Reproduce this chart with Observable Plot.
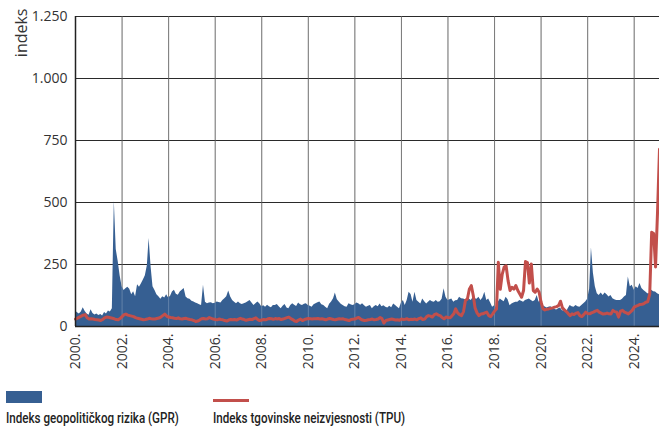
<!DOCTYPE html>
<html>
<head>
<meta charset="utf-8">
<script src="https://cdn.jsdelivr.net/npm/d3@7"></script>
<script src="https://cdn.jsdelivr.net/npm/@observablehq/plot@0.6"></script>
<style>
  html, body { margin: 0; padding: 0; background: #fff; }
  #wrap { width: 659px; height: 431px; position: relative; overflow: hidden; }
  #legend { position: relative; width: 659px; height: 51px; font-family: Roboto, "Open Sans", sans-serif; }
  .sw { position: absolute; }
  .lt { position: absolute; top: 29px; font-size: 15.5px; font-weight: 500; color: #222; white-space: nowrap; transform: scaleX(0.75); transform-origin: left center; }
</style>
</head>
<body>
<div id="wrap">
  <div id="chart"></div>
  <div id="legend"></div>
</div>
<script>
// ---- data (monthly, Jan 2000 – Feb 2025) ----
const seriesNames = ["Indeks geopolitičkog rizika (GPR)", "Indeks tgovinske neizvjesnosti (TPU)"];
const yTickValues = [0, 250, 500, 750, 1000, 1250];
const yTickLabels = ["0", "250", "500", "750", "1.000", "1.250"];
const xTickYears = [2000, 2002, 2004, 2006, 2008, 2010, 2012, 2014, 2016, 2018, 2020, 2022, 2024];

const gprByYear = [
  [62, 55, 50, 58, 76, 60, 50, 45, 68, 52, 46, 50],          // 2000
  [44, 48, 42, 56, 50, 62, 58, 72, 505, 310, 262, 205],      // 2001
  [160, 145, 152, 158, 150, 128, 140, 120, 168, 158, 172, 188], // 2002
  [205, 245, 355, 240, 160, 145, 128, 120, 110, 120, 115, 128], // 2003
  [115, 122, 139, 146, 130, 126, 139, 146, 153, 119, 112, 110], // 2004
  [102, 99, 95, 92, 88, 85, 166, 98, 92, 95, 96, 92],        // 2005
  [94, 99, 97, 95, 105, 112, 120, 143, 119, 105, 98, 92],    // 2006
  [99, 92, 89, 92, 95, 100, 105, 95, 85, 92, 99, 92],        // 2007
  [80, 84, 78, 86, 80, 76, 85, 85, 89, 80, 72, 82],          // 2008
  [89, 75, 72, 85, 92, 86, 81, 95, 88, 85, 90, 92],          // 2009
  [85, 82, 78, 88, 92, 96, 99, 88, 85, 78, 72, 90],          // 2010
  [99, 112, 135, 108, 99, 90, 85, 80, 78, 92, 88, 85],       // 2011
  [88, 95, 92, 86, 92, 84, 78, 82, 85, 72, 80, 85],          // 2012
  [80, 91, 80, 84, 78, 75, 82, 76, 91, 85, 78, 72],          // 2013
  [95, 105, 85, 105, 138, 129, 98, 138, 105, 98, 91, 111],   // 2014
  [100, 91, 98, 105, 100, 98, 105, 98, 100, 110, 152, 118],  // 2015
  [105, 108, 111, 98, 104, 105, 118, 112, 111, 108, 105, 111], // 2016
  [105, 118, 112, 110, 118, 105, 115, 138, 105, 111, 95, 78], // 2017
  [84, 75, 98, 111, 105, 100, 118, 108, 84, 91, 95, 98],     // 2018
  [98, 105, 102, 98, 105, 108, 111, 105, 100, 105, 125, 98], // 2019
  [110, 84, 80, 75, 78, 80, 75, 70, 67, 72, 75, 64],         // 2020
  [62, 55, 72, 85, 80, 78, 85, 80, 78, 85, 92, 99],          // 2021
  [110, 150, 318, 215, 160, 132, 125, 135, 125, 135, 128, 119], // 2022
  [125, 112, 108, 105, 105, 105, 110, 119, 125, 200, 160, 166], // 2023
  [146, 160, 153, 173, 153, 145, 139, 132, 132, 146, 140, 139], // 2024
  [132, 128]                                                  // 2025
];

const tpuByYear = [
  [30, 34, 38, 42, 46, 48, 35, 30, 31, 30, 28, 27],          // 2000
  [26, 24, 28, 35, 38, 37, 35, 33, 31, 28, 27, 32],          // 2001
  [40, 48, 50, 46, 44, 42, 40, 36, 33, 31, 29, 27],          // 2002
  [28, 30, 33, 31, 30, 30, 32, 34, 38, 44, 50, 42],          // 2003
  [38, 36, 35, 33, 32, 35, 31, 30, 32, 33, 30, 28],          // 2004
  [27, 24, 20, 22, 26, 31, 32, 30, 31, 36, 33, 30],          // 2005
  [28, 27, 30, 28, 27, 24, 22, 26, 28, 27, 28, 26],          // 2006
  [30, 33, 30, 28, 25, 27, 29, 28, 32, 35, 28, 24],          // 2007
  [26, 28, 27, 30, 32, 31, 29, 32, 30, 32, 28, 30],          // 2008
  [33, 36, 38, 32, 28, 22, 20, 26, 30, 24, 28, 30],          // 2009
  [32, 31, 30, 31, 31, 32, 30, 31, 29, 27, 30, 32],          // 2010
  [30, 28, 27, 29, 31, 30, 31, 28, 26, 24, 28, 29],          // 2011
  [30, 34, 36, 30, 26, 24, 25, 27, 28, 30, 27, 28],          // 2012
  [30, 36, 32, 14, 24, 26, 28, 30, 28, 26, 27, 25],          // 2013
  [30, 28, 29, 31, 27, 29, 28, 30, 27, 32, 35, 28],          // 2014
  [30, 40, 44, 42, 38, 48, 51, 46, 44, 36, 31, 38],          // 2015
  [36, 35, 42, 51, 71, 55, 48, 44, 60, 105, 111, 150],       // 2016
  [165, 125, 75, 55, 44, 50, 51, 55, 58, 44, 40, 50],        // 2017
  [62, 71, 259, 150, 210, 240, 245, 185, 145, 158, 151, 165], // 2018
  [145, 131, 118, 145, 262, 258, 175, 252, 145, 138, 151, 138], // 2019
  [98, 71, 67, 70, 71, 73, 75, 78, 80, 84, 102, 75],         // 2020
  [67, 60, 52, 44, 51, 48, 54, 56, 44, 40, 48, 58],          // 2021
  [52, 51, 55, 58, 62, 65, 58, 54, 50, 51, 54, 51],          // 2022
  [50, 65, 60, 58, 38, 62, 65, 58, 55, 51, 58, 65],          // 2023
  [78, 82, 85, 89, 90, 92, 98, 100, 132, 380, 375, 240],     // 2024
  [460, 715]                                                  // 2025
];

const gpr = gprByYear.flat();
const tpu = tpuByYear.flat();
const start = new Date(Date.UTC(2000, 0, 1));
const data = gpr.map((v, i) => ({ date: new Date(Date.UTC(2000, i, 1)), gpr: v, tpu: tpu[i] }));
const end = data[data.length - 1].date;
const xTicks = xTickYears.map(y => new Date(Date.UTC(y, 0, 1)));

const BLUE = "#365f92";
const RED = "#c24f4b";

const chart = Plot.plot({
  width: 659,
  height: 380,
  marginLeft: 75,
  marginRight: 0,
  marginTop: 16,
  marginBottom: 54,
  style: { fontFamily: "'Open Sans', sans-serif", fontSize: "14px", color: "#333", background: "#fff", overflow: "visible" },
  x: {
    type: "utc",
    domain: [start, end],
    ticks: xTicks,
    tickFormat: d => d.getUTCFullYear() + ".",
    tickRotate: -90,
    tickSize: 0,
    tickPadding: 7,
    label: null
  },
  y: {
    domain: [0, 1250],
    ticks: yTickValues,
    tickFormat: d => yTickLabels[yTickValues.indexOf(d)],
    tickSize: 0,
    tickPadding: 8,
    label: null
  },
  marks: [
    Plot.ruleX(xTicks, { stroke: "#555", strokeWidth: 1 }),
    Plot.ruleY(yTickValues, { stroke: "#2a2a2a", strokeWidth: 1 }),
    Plot.areaY(data, { x: "date", y: "gpr", fill: BLUE, curve: "linear" }),
    Plot.ruleX(xTicks, { stroke: "#fff", strokeOpacity: 0.22, strokeWidth: 1 }),
    Plot.lineY(data, { x: "date", y: "tpu", stroke: RED, strokeWidth: 3, strokeLinejoin: "round" }),
    Plot.ruleX([start], { stroke: "#222", strokeWidth: 1.5 }),
    Plot.ruleY([0], { stroke: "#222", strokeWidth: 1.5 }),
    Plot.text(["indeks"], { frameAnchor: "top-left", rotate: -90, textAnchor: "end", dx: -60, dy: -8, fontSize: 16, fill: "#333" })
  ]
});
document.getElementById("chart").appendChild(chart);

// legend
const legend = document.getElementById("legend");
legend.innerHTML = `
  <div class="sw" style="left:6px;top:11px;width:36px;height:12px;background:${BLUE}"></div>
  <div class="lt" style="left:6px">${seriesNames[0]}</div>
  <div class="sw" style="left:213px;top:19px;width:36px;height:3px;background:${RED}"></div>
  <div class="lt" style="left:213px">${seriesNames[1]}</div>`;
</script>
</body>
</html>
